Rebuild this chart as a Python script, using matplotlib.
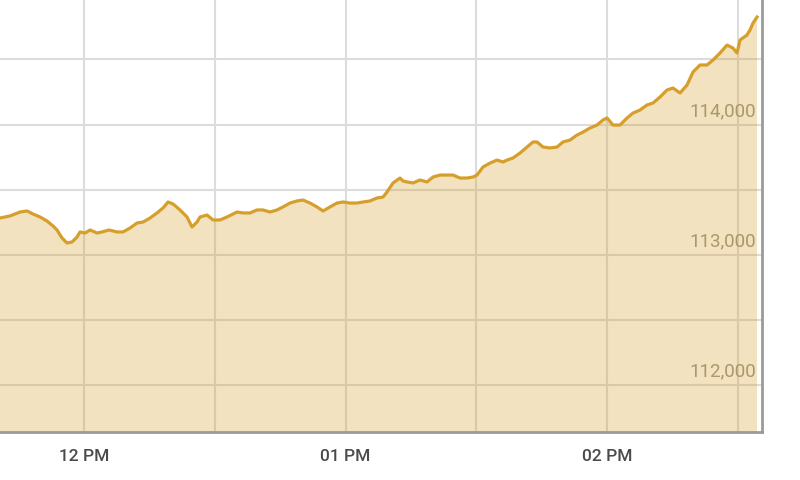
import matplotlib
matplotlib.use("Agg")
import matplotlib.pyplot as plt
from matplotlib.transforms import ScaledTranslation

# minutes relative to 12:00 PM
minutes = [-19.27, -16.97, -14.68, -13.07, -11.70, -10.09, -8.49, -7.11, -6.19, -5.05,
           -3.90, -2.75, -1.61, -0.92, 0.23, 1.38, 2.98, 4.13, 5.73, 7.57,
           8.94, 10.55, 12.16, 13.53, 15.14, 16.74, 18.12, 19.27, 20.41, 22.02,
           23.62, 24.77, 25.92, 26.61, 28.21, 29.59, 31.19, 32.80, 35.09, 36.47,
           38.07, 39.68, 41.06, 42.66, 44.27, 45.64, 47.25, 48.85, 50.23, 51.83,
           53.44, 54.82, 56.42, 58.03, 59.40, 61.01, 62.61, 63.99, 65.60, 67.20,
           68.58, 69.50, 70.87, 72.48, 73.17, 74.08, 75.46, 77.06, 78.67, 80.05,
           81.65, 83.26, 84.63, 86.24, 87.84, 89.22, 90.14, 91.51, 93.12, 94.72,
           96.10, 97.02, 98.39, 100.00, 101.61, 102.98, 103.90, 105.28, 106.88, 108.49,
           109.86, 111.47, 113.07, 114.45, 116.06, 117.66, 119.04, 119.95, 121.33, 122.94,
           124.54, 125.92, 127.52, 129.13, 130.50, 132.11, 133.72, 135.09, 136.70, 138.30,
           139.68, 141.28, 142.89, 144.27, 145.87, 147.48, 148.85, 149.77, 150.46, 152.06,
           152.75, 153.44, 154.36]

index_values = [113282, 113298, 113328, 113336, 113313, 113290, 113259, 113221, 113190, 113129,
                113090, 113098, 113136, 113175, 113167, 113190, 113167, 113175, 113190, 113175,
                113175, 113205, 113244, 113251, 113282, 113321, 113359, 113405, 113390, 113344,
                113290, 113213, 113251, 113290, 113305, 113267, 113267, 113290, 113328, 113321,
                113321, 113344, 113344, 113328, 113344, 113367, 113397, 113413, 113420, 113397,
                113367, 113336, 113367, 113397, 113405, 113397, 113397, 113405, 113413, 113436,
                113443, 113482, 113551, 113589, 113566, 113559, 113551, 113574, 113559, 113597,
                113612, 113612, 113612, 113589, 113589, 113597, 113612, 113674, 113704, 113727,
                113712, 113727, 113743, 113781, 113827, 113866, 113866, 113827, 113820, 113827,
                113866, 113881, 113919, 113942, 113973, 113996, 114035, 114050, 113996, 113996,
                114050, 114088, 114111, 114150, 114165, 114211, 114265, 114280, 114242, 114303,
                114403, 114457, 114457, 114495, 114549, 114610, 114587, 114549, 114649, 114687,
                114726, 114779, 114825]

x_tick_pos = [0, 60, 120]
x_tick_labels = ["12 PM", "01 PM", "02 PM"]
x_grid_pos = [30, 90, 150]
y_grid_vals = [112000, 112500, 113000, 113500, 114000, 114500]
y_tick_labels = ["112,000", "", "113,000", "", "114,000", ""]

line_color = "#d69f2c"

fig = plt.figure(figsize=(8, 4.8), dpi=100)
ax = fig.add_axes([0, 0.1, 0.9525, 0.9])
ax.set_xlim(-19.27, 155.5)
ax.set_ylim(111639, 114956)

ax.fill_between(minutes, index_values, 111000, color=line_color, alpha=0.3, linewidth=0, zorder=2)
ax.plot(minutes, index_values, color=line_color, linewidth=2.3, zorder=3)

ax.set_xticks(x_tick_pos, labels=x_tick_labels)
ax.set_xticks(x_grid_pos, minor=True)
ax.set_yticks(y_grid_vals, labels=y_tick_labels)

ax.grid(True, which="both", axis="x", color="#dcdcdc", linewidth=1.5, zorder=0)
ax.grid(True, which="major", axis="y", color="#dcdcdc", linewidth=1.5, zorder=0)
ax.set_axisbelow(True)

for s in ["left", "top"]:
    ax.spines[s].set_visible(False)
for s in ["right", "bottom"]:
    ax.spines[s].set_color("#9a9a9a")
    ax.spines[s].set_linewidth(2)
    ax.spines[s].set_zorder(5)

ax.tick_params(axis="x", which="both", length=0, pad=12, labelsize=12.5, labelcolor="#4a4a4a")
ax.tick_params(axis="y", which="both", length=0, left=False, right=False,
               labelleft=False, labelright=True, pad=-4, labelsize=13.5, labelcolor="#9a9385")
for lab in ax.get_xticklabels():
    lab.set_fontfamily(["Roboto", "DejaVu Sans"])
    lab.set_fontweight("medium")
offset = ScaledTranslation(0, 3.2 / 72, fig.dpi_scale_trans)
for lab in ax.get_yticklabels():
    lab.set_fontfamily(["Roboto", "DejaVu Sans"])
    lab.set_horizontalalignment("right")
    lab.set_verticalalignment("bottom")
    lab.set_transform(lab.get_transform() + offset)
    lab.set_zorder(6)

fig.savefig("out.png", dpi=100)
